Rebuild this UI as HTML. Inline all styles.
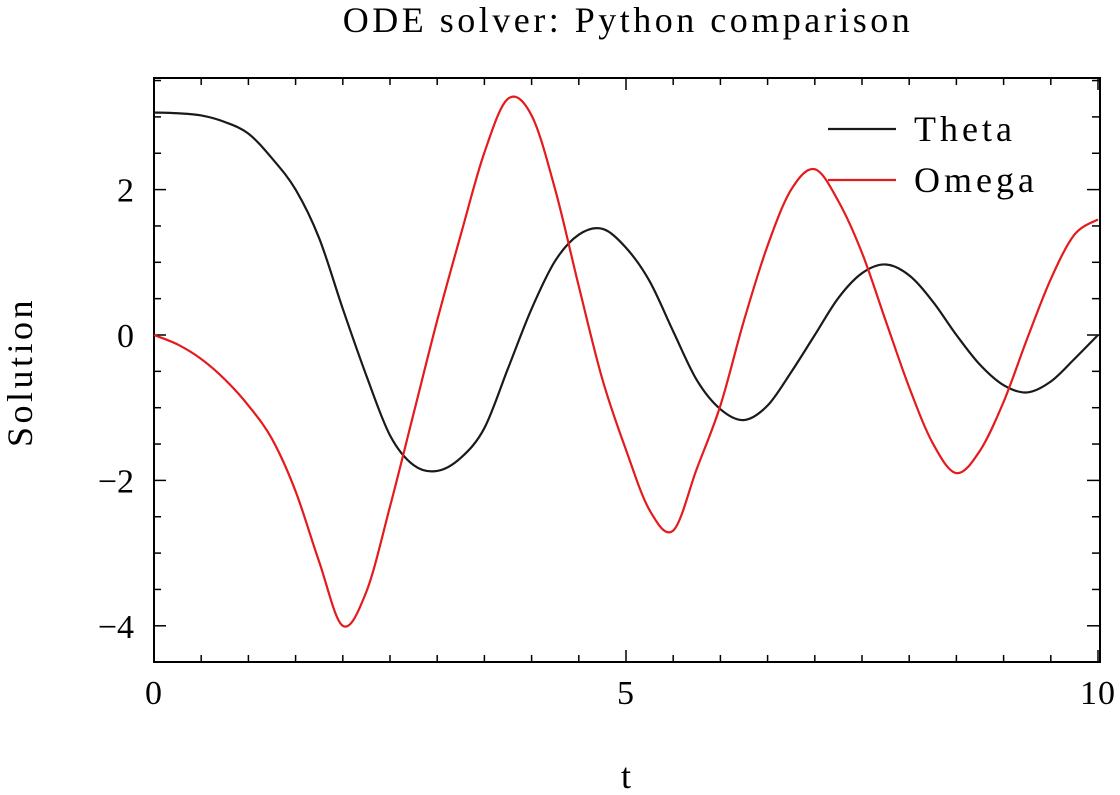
<!DOCTYPE html>
<html><head><meta charset="utf-8">
<style>
html,body{margin:0;padding:0;background:#fff;}
svg{display:block;font-family:"Liberation Serif",serif;}
</style></head>
<body>
<svg id="chart" width="1120" height="795" viewBox="0 0 1120 795"></svg>
<script>
const tValues=[0,0.25,0.5,0.75,1,1.25,1.5,1.75,2,2.25,2.5,2.75,3,3.25,3.5,3.75,4,4.25,4.5,4.75,5,5.25,5.5,5.75,6,6.25,6.5,6.75,7,7.25,7.5,7.75,8,8.25,8.5,8.75,9,9.25,9.5,9.75,10];
const thetaValues=[3.06,3.05,3.02,2.93,2.77,2.43,2.0,1.33,0.36,-0.56,-1.38,-1.79,-1.87,-1.69,-1.28,-0.46,0.36,1.02,1.38,1.46,1.2,0.74,0.05,-0.62,-1.02,-1.17,-0.97,-0.51,0.0,0.51,0.85,0.97,0.82,0.46,0.0,-0.41,-0.69,-0.79,-0.64,-0.33,0.0];
const omegaValues=[0,-0.13,-0.33,-0.61,-0.97,-1.43,-2.15,-3.12,-4.0,-3.53,-2.36,-1.08,0.2,1.38,2.51,3.25,3.02,2.0,0.67,-0.61,-1.58,-2.41,-2.69,-1.84,-0.97,0.2,1.23,2.0,2.28,1.84,1.13,0.2,-0.72,-1.49,-1.9,-1.59,-0.92,-0.05,0.77,1.38,1.59];
const xTicks=[0,5,10];
const yTicks=[2,0,-2,-4];
const seriesNames=["Theta","Omega"];

const NS="http://www.w3.org/2000/svg";
const svg=document.getElementById('chart');
const L=154,R=1098,T=78,B=662;
const xs=t=>L+(t-0)/(10-0)*(R-L);
const ys=v=>335-v*72.7;
function mk(tag,attrs,parent){const e=document.createElementNS(NS,tag);for(const k in attrs)e.setAttribute(k,attrs[k]);(parent||svg).appendChild(e);return e;}

const frame=mk('rect',{x:L,y:T,width:R-L+2,height:B-T,fill:'none',stroke:'#000','stroke-width':2});



for(let i=0;i<=20;i++){const t=i*0.5;const x=xs(t);const len=(i%10===0)?12:7;
 const a=mk('line',{x1:x,y1:B,x2:x,y2:B-len,stroke:'#000','stroke-width':1.5});
 
 
 const b=mk('line',{x1:x,y1:T,x2:x,y2:T+len,stroke:'#000','stroke-width':1.5});
 
 }
xTicks.forEach(t=>{const tx=mk('text',{x:xs(t),y:704,'text-anchor':'middle','font-size':34,'letter-spacing':1});tx.textContent=t;
 
 });
for(let i=-9;i<=7;i++){const v=i*0.5;const y=ys(v);if(y<T||y>B)continue;const len=(i%4===0)?12:7;
 const a=mk('line',{x1:L,y1:y,x2:L+len,y2:y,stroke:'#000','stroke-width':1.5});
 
 
 const b=mk('line',{x1:R+1,y1:y,x2:R+1-len,y2:y,stroke:'#000','stroke-width':1.5});
 
 }
yTicks.forEach(v=>{const tx=mk('text',{x:134,y:ys(v)+12,'text-anchor':'end','font-size':34});tx.textContent=(v<0?'\u2212'+(-v):v);
 
 });

function pathFor(vals){const p=tValues.map((t,i)=>[xs(t),ys(vals[i])]);let d='M'+p[0][0]+','+p[0][1];
 for(let i=0;i<p.length-1;i++){const p0=p[Math.max(0,i-1)],p1=p[i],p2=p[i+1],p3=p[Math.min(p.length-1,i+2)];
  const c1=[p1[0]+(p2[0]-p0[0])/6,p1[1]+(p2[1]-p0[1])/6],c2=[p2[0]-(p3[0]-p1[0])/6,p2[1]-(p3[1]-p1[1])/6];
  d+=` C${c1[0]},${c1[1]} ${c2[0]},${c2[1]} ${p2[0]},${p2[1]}`;}return d;}
const th=mk('path',{d:pathFor(thetaValues),fill:'none',stroke:'#1a1a1a','stroke-width':2.2});


const om=mk('path',{d:pathFor(omegaValues),fill:'none',stroke:'#e41a1c','stroke-width':2.2});



const colors=['#1a1a1a','#e41a1c'];
seriesNames.forEach((n,i)=>{const y=129+i*51;
 const l=mk('line',{x1:828,y1:y,x2:896,y2:y,stroke:colors[i],'stroke-width':2.2});
 
 
 const tx=mk('text',{x:914,y:y+12,'font-size':36,'letter-spacing':4});tx.textContent=n;
 
 });

const title=mk('text',{x:628,y:32,'text-anchor':'middle','font-size':36,'letter-spacing':3.5});title.textContent='ODE solver: Python comparison';


const xl=mk('text',{x:626,y:788,'text-anchor':'middle','font-size':36});xl.textContent='t';


const yl=mk('text',{x:0,y:0,'text-anchor':'middle','font-size':36,'letter-spacing':3.5,transform:'translate(32,372) rotate(-90)'});yl.textContent='Solution';


</script>
</body></html>
